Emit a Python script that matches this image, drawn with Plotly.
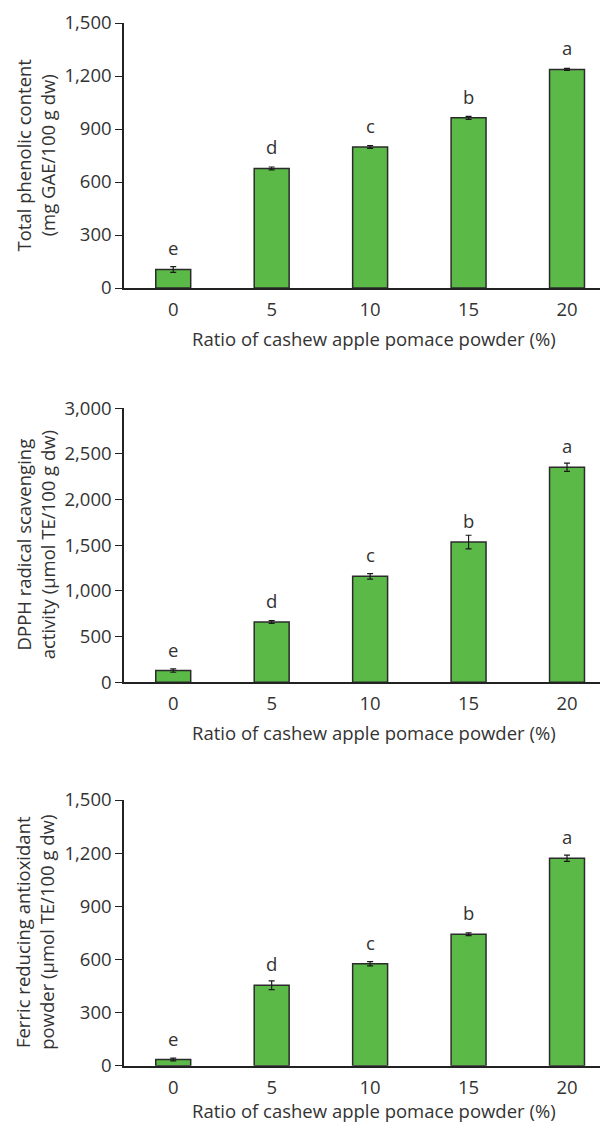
import plotly.graph_objects as go

categories = ["0", "5", "10", "15", "20"]
tpc_values = [105, 677, 798, 963, 1237]
tpc_errors = [16, 8, 8, 8, 6]
dpph_values = [128, 660, 1160, 1535, 2355]
dpph_errors = [18, 15, 30, 75, 45]
frap_values = [35, 454, 576, 742, 1171]
frap_errors = [8, 25, 12, 8, 18]
letters = ["e", "d", "c", "b", "a"]

y_titles = ["Total phenolic content<br>(mg GAE/100 g dw)",
            "DPPH radical scavenging<br>activity (μmol TE/100 g dw)",
            "Ferric reducing antioxidant<br>powder (μmol TE/100 g dw)"]
x_title = "Ratio of cashew apple pomace powder (%)"
y_ranges = [1500, 3000, 1500]
y_dticks = [300, 500, 300]

W, H = 600, 1124
# pixel positions (top, bottom) of each plot area
areas = [(23, 288), (408.3, 682.3), (800, 1065.7)]
x_title_y = [338, 732, 1110]
x_left = 124

FONT = "Open Sans"
FS = 18.5
TXT = "#333333"
GREEN = "#5BB947"

fig = go.Figure()
series = [(tpc_values, tpc_errors), (dpph_values, dpph_errors), (frap_values, frap_errors)]
annotations = []
for i, (vals, errs) in enumerate(series):
    n = "" if i == 0 else str(i + 1)
    fig.add_trace(go.Bar(
        x=categories, y=vals, width=0.355,
        marker=dict(color=GREEN, line=dict(color="#2b2b2b", width=1.5)),
        error_y=dict(type="data", array=errs, visible=True, color="#1a1a1a", thickness=1.2, width=3),
        xaxis="x" + n, yaxis="y" + n, showlegend=False,
    ))
    top, bot = areas[i]
    fig.layout["xaxis" + n] = dict(
        domain=[x_left / W, 1], anchor="y" + n, type="category", automargin=False,
        range=[-0.5, 4.335], showline=True, linecolor="#222222", linewidth=1.5,
        ticks="outside", ticklen=4, tickcolor="rgba(0,0,0,0)", showgrid=False, zeroline=False,
        tickfont=dict(family=FONT, size=FS, color=TXT),
    )
    fig.layout["yaxis" + n] = dict(
        domain=[1 - bot / H, 1 - top / H], anchor="x" + n, automargin=False,
        range=[0, y_ranges[i]], dtick=y_dticks[i], tickformat=",d",
        showline=True, linecolor="#222222", linewidth=1.5,
        ticks="outside", ticklen=7, tickcolor="#222222", tickwidth=1.2,
        showgrid=False, zeroline=False,
        tickfont=dict(family=FONT, size=FS, color=TXT),
    )
    for k, (v, l) in enumerate(zip(vals, letters)):
        annotations.append(dict(
            x=k, y=v, xref="x" + n, yref="y" + n, text=l, showarrow=False,
            yanchor="bottom", yshift=7, font=dict(family=FONT, size=FS, color=TXT),
        ))
    annotations.append(dict(
        x=35 / W, y=1 - (top + bot) / 2 / H, xref="paper", yref="paper",
        text=y_titles[i], textangle=-90, showarrow=False,
        xanchor="center", yanchor="middle",
        font=dict(family=FONT, size=FS, color=TXT),
    ))
    annotations.append(dict(
        x=374 / W, y=1 - x_title_y[i] / H, xref="paper", yref="paper",
        text=x_title, showarrow=False, xanchor="center", yanchor="middle",
        font=dict(family=FONT, size=FS, color=TXT),
    ))

fig.update_layout(
    width=W, height=H, margin=dict(l=0, r=0, t=0, b=0),
    paper_bgcolor="white", plot_bgcolor="white",
    annotations=annotations, bargap=0.6,
)
fig.write_html("out.html")
